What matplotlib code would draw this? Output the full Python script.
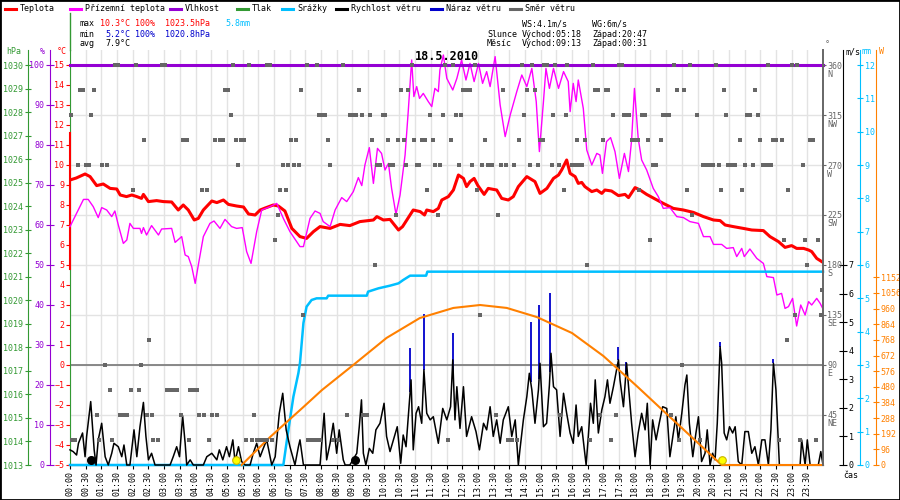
import numpy as np
import matplotlib.pyplot as plt
import matplotlib.transforms as mtransforms
from matplotlib.lines import Line2D
from matplotlib.patches import Rectangle
from matplotlib.ticker import MultipleLocator

plt.rcParams['font.family'] = ['DejaVu Sans Mono']
plt.rcParams['font.size'] = 6

# ---- data, time in hours since midnight (18.5.2010) ----
temp_pts = [(0.0, 9.25), (0.2, 9.35), (0.48, 9.55), (0.64, 9.42), (0.85, 8.97), (1.06, 9.05), (1.28, 8.83),
            (1.49, 8.8), (1.6, 8.5), (1.8, 8.42), (1.97, 8.5), (2.13, 8.42), (2.28, 8.33), (2.34, 8.53),
            (2.5, 8.17), (2.76, 8.22), (2.98, 8.17), (3.24, 8.15), (3.45, 7.75), (3.61, 8.0), (3.77, 7.75),
            (3.96, 7.25), (4.09, 7.33), (4.25, 7.75), (4.52, 8.2), (4.68, 8.12), (4.89, 8.25), (5.05, 8.03),
            (5.31, 7.95), (5.53, 7.9), (5.69, 7.55), (5.9, 7.5), (6.06, 7.75), (6.22, 7.85), (6.48, 8.0),
            (6.64, 7.95), (6.85, 7.7), (7.07, 6.83), (7.33, 6.42), (7.54, 6.33), (7.76, 6.67), (7.97, 6.92),
            (8.29, 6.83), (8.61, 7.03), (8.92, 6.97), (9.24, 7.17), (9.67, 7.25), (9.78, 7.42), (9.99, 7.25),
            (10.2, 7.28), (10.47, 6.75), (10.6, 6.92), (10.94, 7.75), (11.16, 7.67), (11.3, 7.5), (11.37, 7.75),
            (11.58, 7.67), (11.74, 7.83), (11.85, 8.25), (12.06, 8.42), (12.22, 8.75), (12.38, 9.5),
            (12.54, 9.33), (12.64, 8.92), (12.75, 9.17), (12.88, 9.33), (13.0, 8.97), (13.2, 8.53),
            (13.33, 8.83), (13.6, 8.75), (13.76, 8.33), (13.97, 8.25), (14.13, 8.42), (14.29, 8.92),
            (14.56, 9.42), (14.82, 9.17), (14.98, 8.58), (15.2, 8.83), (15.41, 9.33), (15.57, 9.5),
            (15.67, 9.75), (15.83, 10.25), (15.94, 9.58), (16.1, 9.42), (16.2, 9.08), (16.31, 9.13),
            (16.41, 8.92), (16.63, 8.67), (16.79, 8.75), (16.95, 8.58), (17.05, 8.75), (17.26, 8.7),
            (17.48, 8.47), (17.69, 8.53), (17.8, 8.37), (18.01, 8.87), (18.17, 8.75), (18.38, 8.53),
            (18.65, 8.3), (18.91, 8.08), (19.23, 7.83), (19.55, 7.75), (19.87, 7.63), (20.19, 7.42),
            (20.51, 7.25), (20.72, 7.22), (20.88, 7.0), (21.14, 6.92), (21.46, 6.83), (21.73, 6.75),
            (22.1, 6.72), (22.31, 6.42), (22.58, 6.17), (22.79, 5.88), (23.0, 5.97), (23.16, 5.83),
            (23.38, 5.83), (23.54, 5.75), (23.64, 5.67), (23.8, 5.33), (24.0, 5.13)]
temp_edge = [11.6, 4.8]  # odd first sample drawn on the left edge

feel_pts = [(0.0, 6.92), (0.05, 7.08), (0.43, 8.28), (0.58, 8.28), (0.74, 7.92), (0.9, 7.37), (1.01, 7.87),
            (1.17, 7.75), (1.33, 7.42), (1.43, 7.7), (1.54, 7.0), (1.7, 6.08), (1.81, 6.25), (1.91, 7.08),
            (2.02, 6.83), (2.23, 6.83), (2.28, 6.58), (2.34, 6.87), (2.44, 6.5), (2.6, 6.97), (2.82, 6.5),
            (2.92, 6.8), (3.24, 6.83), (3.35, 6.13), (3.56, 6.42), (3.67, 5.5), (3.77, 5.42), (3.88, 4.92),
            (3.99, 4.08), (4.09, 5.0), (4.25, 6.42), (4.46, 7.08), (4.59, 7.2), (4.78, 6.83), (4.94, 7.28),
            (5.15, 6.92), (5.31, 6.83), (5.49, 6.87), (5.63, 5.67), (5.77, 5.08), (5.95, 6.67), (6.11, 7.75),
            (6.38, 7.92), (6.59, 8.08), (6.8, 7.33), (7.01, 6.67), (7.33, 5.92), (7.44, 5.92), (7.65, 7.33),
            (7.81, 7.7), (7.97, 7.58), (8.07, 7.17), (8.29, 6.92), (8.45, 7.75), (8.66, 8.37), (8.82, 8.17),
            (9.03, 8.67), (9.19, 9.37), (9.3, 8.97), (9.4, 10.0), (9.54, 10.87), (9.67, 9.08), (9.8, 10.83),
            (9.93, 10.58), (10.04, 9.75), (10.15, 10.08), (10.25, 8.83), (10.39, 7.53), (10.52, 8.5),
            (10.68, 10.5), (10.78, 12.67), (10.89, 15.25), (10.96, 13.42), (11.05, 13.92), (11.14, 13.33),
            (11.26, 13.58), (11.42, 13.17), (11.53, 12.92), (11.63, 13.83), (11.74, 13.67), (11.79, 14.75),
            (11.9, 15.5), (12.01, 14.33), (12.2, 13.75), (12.33, 14.33), (12.48, 15.25), (12.62, 14.25),
            (12.75, 15.08), (12.88, 14.17), (13.02, 15.08), (13.15, 14.08), (13.28, 14.67), (13.39, 13.92),
            (13.55, 15.42), (13.71, 13.0), (13.87, 11.42), (14.03, 12.5), (14.24, 13.67), (14.4, 14.5),
            (14.56, 13.92), (14.72, 14.83), (14.86, 13.17), (14.96, 10.67), (15.09, 13.17), (15.17, 14.83),
            (15.28, 13.83), (15.41, 14.83), (15.57, 13.83), (15.73, 14.67), (15.88, 14.17), (15.94, 12.67),
            (16.04, 14.08), (16.13, 13.17), (16.2, 14.25), (16.36, 12.83), (16.47, 10.75), (16.63, 10.0),
            (16.79, 10.58), (16.89, 10.5), (16.97, 9.58), (17.1, 11.17), (17.23, 11.37), (17.37, 10.67),
            (17.51, 9.33), (17.67, 10.58), (17.8, 9.67), (17.9, 11.25), (17.99, 13.83), (18.11, 11.33),
            (18.22, 10.25), (18.38, 9.75), (18.59, 8.83), (18.75, 8.42), (18.91, 7.83), (19.12, 7.87),
            (19.34, 7.42), (19.55, 7.37), (19.76, 7.17), (20.03, 7.08), (20.19, 6.42), (20.4, 6.42),
            (20.51, 6.03), (20.77, 6.03), (20.93, 5.83), (21.14, 5.87), (21.25, 5.42), (21.41, 5.83),
            (21.49, 5.42), (21.67, 5.8), (21.89, 5.33), (22.1, 5.08), (22.21, 4.42), (22.42, 4.37),
            (22.53, 3.5), (22.68, 3.58), (22.79, 2.83), (22.9, 2.92), (23.03, 3.33), (23.16, 1.95),
            (23.29, 3.0), (23.43, 2.5), (23.54, 3.17), (23.64, 3.0), (23.8, 3.33), (23.91, 3.08), (24.0, 2.8)]

hum_t = [0, 6, 12, 18, 24]
hum_v = [100, 100, 100, 100, 100]

rain_pts = [(0.0, 0.0), (6.8, 0.0), (6.96, 1.05), (7.12, 2.05), (7.28, 2.76), (7.33, 3.06), (7.44, 4.26),
            (7.54, 4.75), (7.7, 4.95), (7.86, 5.0), (8.18, 5.0), (8.23, 5.08), (9.46, 5.08), (9.5, 5.2),
            (9.83, 5.3), (10.2, 5.38), (10.47, 5.45), (10.62, 5.55), (10.84, 5.68), (11.35, 5.68),
            (11.39, 5.8), (24.0, 5.8)]

wind_pts = [(0.0, 0.53), (0.1, 0.47), (0.21, 0.35), (0.27, 0.76), (0.4, 1.12), (0.48, 0.29), (0.53, 1.0),
            (0.66, 2.22), (0.77, 0.53), (0.83, 0.0), (0.9, 0.88), (1.01, 1.46), (1.12, 0.29), (1.22, 0.0),
            (1.33, 0.41), (1.4, 0.76), (1.54, 0.64), (1.65, 0.29), (1.72, 0.7), (1.81, 0.0), (1.91, 0.0),
            (2.04, 1.23), (2.13, 0.29), (2.23, 1.34), (2.34, 2.19), (2.42, 1.0), (2.5, 0.18), (2.6, 0.41),
            (2.71, 0.0), (3.19, 0.0), (3.29, 0.29), (3.4, 0.64), (3.49, 0.29), (3.59, 1.72), (3.67, 0.76),
            (3.72, 0.0), (3.83, 0.18), (3.93, 0.0), (4.25, 0.0), (4.36, 0.29), (4.52, 0.41), (4.68, 0.18),
            (4.76, 0.53), (4.87, 0.18), (4.99, 0.64), (5.08, 0.29), (5.19, 0.88), (5.26, 0.12), (5.37, 0.64),
            (5.47, 0.12), (5.58, 0.0), (5.74, 0.0), (5.84, 0.41), (5.95, 0.76), (6.06, 0.29), (6.16, 0.58),
            (6.27, 0.88), (6.43, 0.0), (6.54, 0.29), (6.67, 1.81), (6.78, 2.51), (6.89, 1.23), (7.01, 0.64),
            (7.17, 0.0), (7.28, 0.64), (7.33, 0.88), (7.44, 0.0), (7.97, 0.0), (8.1, 1.81), (8.18, 0.18),
            (8.29, 0.76), (8.39, 1.46), (8.5, 0.41), (8.58, 1.23), (8.71, 0.18), (8.77, 0.0), (8.92, 0.0),
            (9.14, 0.41), (9.22, 1.34), (9.29, 2.28), (9.35, 0.41), (9.43, 0.0), (9.54, 0.58), (9.65, 0.41),
            (9.75, 1.23), (9.88, 1.46), (10.01, 2.16), (10.09, 1.0), (10.2, 0.47), (10.31, 0.88),
            (10.43, 1.34), (10.54, 0.06), (10.62, 1.05), (10.71, 0.64), (10.82, 2.28), (10.87, 2.98),
            (10.94, 0.53), (11.03, 1.81), (11.11, 2.04), (11.21, 1.46), (11.28, 3.33), (11.37, 1.81),
            (11.48, 1.58), (11.58, 1.69), (11.74, 0.76), (11.88, 1.98), (12.01, 1.58), (12.13, 2.04),
            (12.2, 3.68), (12.27, 1.58), (12.33, 2.74), (12.43, 1.28), (12.54, 2.74), (12.64, 1.0),
            (12.8, 1.69), (12.94, 1.17), (13.05, 0.53), (13.18, 1.46), (13.28, 1.23), (13.39, 2.04),
            (13.49, 1.0), (13.6, 1.58), (13.71, 0.76), (13.81, 1.58), (13.97, 2.04), (14.08, 1.0),
            (14.19, 1.58), (14.29, 0.0), (14.34, 0.53), (14.45, 1.58), (14.56, 2.39), (14.64, 3.21),
            (14.72, 2.63), (14.82, 1.46), (14.93, 2.63), (14.98, 3.56), (15.09, 1.34), (15.19, 1.46),
            (15.28, 2.8), (15.33, 3.91), (15.41, 2.74), (15.51, 2.63), (15.62, 1.0), (15.73, 2.51),
            (15.83, 1.81), (15.94, 1.12), (16.04, 0.76), (16.13, 2.1), (16.2, 1.0), (16.31, 1.34),
            (16.45, 0.0), (16.52, 1.0), (16.59, 2.16), (16.68, 1.46), (16.74, 2.98), (16.84, 1.12),
            (16.95, 1.93), (17.05, 2.39), (17.13, 2.98), (17.21, 2.16), (17.32, 2.74), (17.42, 3.33),
            (17.48, 3.68), (17.53, 2.98), (17.64, 2.04), (17.74, 3.56), (17.83, 2.39), (17.9, 1.46),
            (18.01, 0.29), (18.11, 1.12), (18.22, 1.81), (18.33, 1.23), (18.4, 2.16), (18.49, 0.0),
            (18.57, 1.58), (18.68, 0.88), (18.78, 1.46), (18.89, 2.04), (19.02, 1.98), (19.12, 0.29),
            (19.23, 1.12), (19.31, 1.69), (19.39, 0.88), (19.5, 1.81), (19.6, 2.8), (19.66, 3.15),
            (19.74, 1.46), (19.85, 0.29), (19.95, 1.12), (20.03, 1.69), (20.13, 0.12), (20.24, 0.41),
            (20.31, 1.23), (20.4, 0.0), (20.48, 0.41), (20.56, 0.18), (20.63, 1.46), (20.72, 4.14),
            (20.77, 3.56), (20.85, 1.12), (20.93, 0.88), (21.02, 1.34), (21.12, 1.12), (21.2, 1.34),
            (21.3, 0.12), (21.41, 0.0), (21.51, 1.17), (21.62, 1.17), (21.73, 0.41), (21.83, 0.64),
            (21.94, 0.0), (22.05, 0.88), (22.15, 0.88), (22.26, 0.0), (22.34, 1.23), (22.42, 3.56),
            (22.5, 2.63), (22.61, 0.0), (23.27, 0.0), (23.32, 0.88), (23.43, 0.0), (23.5, 0.88),
            (23.59, 0.0), (23.85, 0.0), (23.93, 0.47), (24.0, 0.0)]

gust_t = [10.84, 11.28, 12.22, 14.68, 14.95, 15.3, 17.48, 17.72, 20.72, 22.42]
gust_v = [4.08, 5.3, 4.61, 5.02, 5.6, 6.01, 4.14, 3.62, 4.32, 3.7]

sol_t = [5.47, 6.38, 7.44, 8.03, 9.03, 10.09, 11.15, 12.22, 13.07, 13.92, 14.88, 16.0, 17.0, 18.06,
         19.12, 20.19, 20.77, 24.0]
sol_v = [0, 172, 356, 460, 614, 780, 902, 964, 982, 964, 908, 810, 669, 485, 295, 104, 0, 0]

# wind direction samples, grouped by compass sector (degrees)
d360 = [1.43, 1.54, 2.1, 2.92, 3.03, 5.19, 5.71, 6.27, 6.38, 7.55, 7.86, 8.69, 10.89, 11.95, 12.22, 12.91,
        14.4, 14.72, 15.11, 15.19, 15.46, 15.83, 16.66, 17.51, 17.58, 19.25, 19.76, 20.58, 22.24, 23.0, 23.16]
d337 = [0.32, 0.43, 0.77, 4.94, 5.05, 7.36, 9.21, 10.54, 10.78, 12.54, 12.64, 12.75, 13.79, 14.56, 14.82,
        16.73, 16.84, 17.08, 17.16, 18.73, 19.34, 19.57, 20.85, 21.83]
d315 = [0.02, 0.67, 5.13, 7.95, 8.02, 8.13, 8.92, 9.03, 9.12, 9.3, 9.56, 9.99, 10.04, 11.48, 11.88, 12.3,
        12.46, 14.47, 15.39, 15.81, 17.32, 17.66, 17.76, 17.83, 18.22, 18.33, 18.91, 19.02, 19.09, 19.99,
        20.91, 21.57, 21.67, 21.92]
d292 = [2.36, 3.61, 3.72, 4.62, 4.78, 4.89, 5.29, 5.44, 5.55, 7.04, 7.2, 8.21, 9.62, 10.15, 10.47, 10.65,
        10.96, 11.21, 11.32, 11.58, 12.13, 13.23, 14.31, 14.98, 15.09, 16.15, 16.41, 16.98, 17.9, 18.01,
        18.09, 18.43, 18.83, 21.36, 22.0, 22.42, 22.5, 22.68, 23.57, 23.67]
d270 = [0.24, 0.51, 0.62, 1.01, 1.17, 5.35, 6.78, 6.94, 7.14, 7.3, 8.29, 9.77, 9.88, 10.2, 10.28, 10.71,
        11.05, 11.12, 11.63, 11.79, 12.41, 12.82, 13.14, 13.33, 13.44, 13.74, 13.9, 14.15, 14.66, 14.93,
        15.35, 15.57, 15.99, 16.1, 16.23, 16.31, 18.57, 18.68, 20.17, 20.27, 20.38, 20.48, 20.69, 20.98,
        21.09, 21.2, 21.51, 21.76, 22.08, 22.21, 22.33, 23.35]
d247 = [2.0, 4.2, 4.36, 6.7, 6.89, 11.37, 12.96, 15.75, 18.15, 19.66, 20.74, 21.41, 22.9]
d225 = [6.62, 10.39, 11.74, 13.63, 19.82]
d202 = [6.54, 18.49, 22.76, 23.43, 23.83]
d180 = [9.72, 16.47, 23.5]
d157 = [23.98]
d135 = [7.44, 13.07, 23.11, 23.93]
d112 = [2.52, 22.84]
d90 = [1.12, 2.26, 19.5]
d67 = [1.28, 1.93, 2.2, 3.08, 3.19, 3.3, 3.41, 3.83, 3.93, 4.04]
d45 = [0.85, 1.59, 1.7, 1.83, 2.44, 2.6, 3.54, 4.12, 4.27, 4.54, 4.68, 5.87, 8.82, 9.35, 9.46, 13.58,
       15.62, 16.89, 17.4, 19.15]
d22 = [0.05, 0.16, 0.94, 1.33, 2.66, 2.82, 3.79, 4.44, 5.6, 5.79, 5.95, 6.06, 6.16, 6.27, 6.43, 7.6, 7.71,
       7.81, 7.92, 7.97, 8.39, 8.55, 12.04, 13.97, 14.08, 14.24, 16.57, 17.24, 19.41, 20.08, 22.6, 23.27, 23.78]
dir_groups = [(360, d360), (337.5, d337), (315, d315), (292.5, d292), (270, d270), (247.5, d247),
              (225, d225), (202.5, d202), (180, d180), (157.5, d157), (135, d135), (112.5, d112),
              (90, d90), (67.5, d67), (45, d45), (22.5, d22)]

sun_t = [5.3, 20.78]     # sunrise / sunset markers
moon_t = [0.66, 9.08]    # moon markers

dir_ticks = [45, 90, 135, 180, 225, 270, 315, 360]
dir_names = ['NE', 'E', 'SE', 'S', 'SW', 'W', 'NW', 'N']
hours = np.arange(0, 24, 0.5)
hour_labels = ['%02d:%02d' % (int(h), 30 if h % 1 else 0) for h in hours]

# colours
RED = '#ff0000'
MAG = '#ff00ff'
PUR = '#9400d3'
GRN = '#339933'
SKY = '#00bfff'
BLU = '#0000cc'
GRY = '#666666'
ORA = '#ff8000'

temp_t, temp_v = np.array(temp_pts).T
feel_t, feel_v = np.array(feel_pts).T
rain_t, rain_v = np.array(rain_pts).T
wind_t, wind_v = np.array(wind_pts).T
dir_t = np.concatenate([g for d, g in dir_groups])
dir_v = np.concatenate([[d] * len(g) for d, g in dir_groups])

# ---- figure: axes box spans x 70..823 px, y 50..465 px ----
fig = plt.figure(figsize=(9, 5), dpi=100)
ax = fig.add_axes([70 / 900, 35 / 500, 753 / 900, 415 / 500])
ax.set_xlim(0, 24)
ax.set_ylim(-5, 15.75)
ax.set_axisbelow(True)

ax.set_xticks(hours)
ax.set_xticklabels(hour_labels)
ax.tick_params(axis='x', colors='black', length=3, pad=1.5, labelsize=6, labelrotation=90)
ax.set_yticks(range(-5, 16))
ax.tick_params(axis='y', colors=RED, direction='out', length=3, pad=1, labelsize=6)
ax.yaxis.set_minor_locator(MultipleLocator(2.5))
ax.yaxis.remove_overlapping_locs = False
ax.tick_params(axis='y', which='minor', length=0)
ax.grid(axis='x', which='major', color='#e3e3e3', lw=1)
ax.grid(axis='y', which='minor', color='#e3e3e3', lw=1)
ax.axhline(0, color='#808080', lw=1.3, zorder=1.5)
for s in ['top', 'right']:
    ax.spines[s].set_visible(False)
ax.spines['left'].set_color(GRN)
ax.spines['bottom'].set_color('black')

ax.plot(temp_t, temp_v, color=RED, lw=2.2, zorder=3)
ax.plot([0, 0], temp_edge, color=RED, lw=1.5, clip_on=False, zorder=3)
ax.plot(feel_t, feel_v, color=MAG, lw=1, clip_on=False, zorder=3)


def side_axis(ylim, side, offset_px, color, ticks, length=5, direction='inout'):
    a = ax.twinx()
    a.set_ylim(*ylim)
    for s in a.spines.values():
        s.set_visible(False)
    if side == 'left':
        a.yaxis.tick_left()
    a.spines[side].set_visible(True)
    a.spines[side].set_position(('outward', offset_px * 0.72))
    a.spines[side].set_color(color)
    a.set_yticks(ticks)
    a.tick_params(axis='y', colors=color, direction=direction, length=length, pad=1, labelsize=6)
    return a


axh = side_axis((0, 103.75), 'left', 20, PUR, range(0, 101, 10), length=6)
axh.plot(hum_t, hum_v, color=PUR, lw=2.2, clip_on=False)
axp = side_axis((1013, 1013 + 17 * 415 / 400), 'left', 42, GRN, range(1013, 1031), length=5)
axr = side_axis((0, 12 * 415 / 400), 'right', 37, SKY, range(0, 13), length=5)
axr.plot(rain_t, rain_v, color=SKY, lw=1.8, clip_on=False)
axw = side_axis((0, 7 * 415 / 200), 'right', 20, 'black', range(0, 8), length=6)
axw.vlines(gust_t, np.interp(gust_t, wind_t, wind_v), gust_v, color=BLU, lw=1.3)
axw.plot(wind_t, wind_v, color='black', lw=1.1, clip_on=False)
axs = side_axis((0, 1152 * 415 / 187.7), 'right', 53, ORA, range(0, 1153, 96), length=5)
axs.plot(sol_t, sol_v, color=ORA, lw=1.5, clip_on=False)
axd = side_axis((0, 373.5), 'right', 0, GRY, dir_ticks, length=2, direction='out')
axd.spines['right'].set_linewidth(1.4)
axd.plot(dir_t, dir_v, 's', color=GRY, ms=3.3, mew=0, clip_on=False)

# compass letters under the degree labels
tr = mtransforms.offset_copy(mtransforms.blended_transform_factory(axd.transAxes, axd.transData),
                             fig=fig, x=4, y=-9, units='dots')
for d, n in zip(dir_ticks, dir_names):
    axd.text(1.0, d, n, transform=tr, ha='left', va='center', color=GRY, fontsize=6)

# sun and moon markers just above the time axis
mk = mtransforms.blended_transform_factory(axd.transData, axd.transAxes)
axd.plot(sun_t, [0.012] * len(sun_t), 'o', color='#ffff00', mec='#c8b400', ms=5.5, mew=0.8,
         transform=mk, clip_on=False, zorder=5)
axd.plot(moon_t, [0.012] * len(moon_t), 'o', color='black', ms=5.5, transform=mk, clip_on=False, zorder=5)


# ---- texts around the plot ----
def ftext(x, y, s, color='black', **kw):
    kw.setdefault('ha', 'left')
    kw.setdefault('va', 'center')
    kw.setdefault('fontsize', 6)
    fig.text(x / 900, 1 - y / 500, s, color=color, **kw)


fig.add_artist(Line2D([70 / 900] * 2, [1 - 13 / 500, 1 - 50 / 500], color=GRN, lw=1))

legend_labels = ['Teplota', 'Přízemní teplota', 'Vlhkost', 'Tlak', 'Srážky', 'Rychlost větru',
                 'Náraz větru', 'Směr větru']
legend_colors = [RED, MAG, PUR, GRN, SKY, 'black', BLU, GRY]
legend_x = [5, 70, 170, 237, 282, 336, 431, 510]
for x0, lab, col in zip(legend_x, legend_labels, legend_colors):
    fig.add_artist(Line2D([x0 / 900, (x0 + 11) / 900], [1 - 8.5 / 500] * 2, color=col, lw=2.2))
    ftext(x0 + 15, 8.5, lab)

ftext(80, 24, 'max')
ftext(100, 24, '10.3°C', RED)
ftext(135, 24, '100%', RED)
ftext(165, 24, '1023.5hPa', RED)
ftext(225, 24, '5.8mm', SKY)
ftext(80, 34, 'min')
ftext(105, 34, '5.2°C', BLU)
ftext(135, 34, '100%', BLU)
ftext(165, 34, '1020.8hPa', BLU)
ftext(80, 44, 'avg')
ftext(105, 44, '7.9°C')

ftext(522, 24, 'WS:4.1m/s')
ftext(592, 24, 'WG:6m/s')
ftext(487, 34, 'Slunce')
ftext(522, 34, 'Východ:05:18')
ftext(592, 34, 'Západ:20:47')
ftext(487, 44, 'Měsíc')
ftext(522, 44, 'Východ:09:13')
ftext(592, 44, 'Západ:00:31')

ftext(446.5, 57, '18.5.2010', ha='center', fontsize=8.5, fontweight='bold')

ftext(14, 52, 'hPa', GRN, ha='center')
ftext(42, 52, '%', PUR, ha='center')
ftext(62, 52, '°C', RED, ha='center')
ftext(825, 45, '°', GRY)
ftext(845, 52, 'm/s')
ftext(862, 52, 'mm', SKY)
ftext(879, 52, 'W', ORA)
ftext(843, 475, 'čas')

fig.add_artist(Rectangle((0, 0), 1, 1, transform=fig.transFigure, fill=False, ec='black', lw=2))

fig.savefig('out.png', dpi=100, facecolor='white')
